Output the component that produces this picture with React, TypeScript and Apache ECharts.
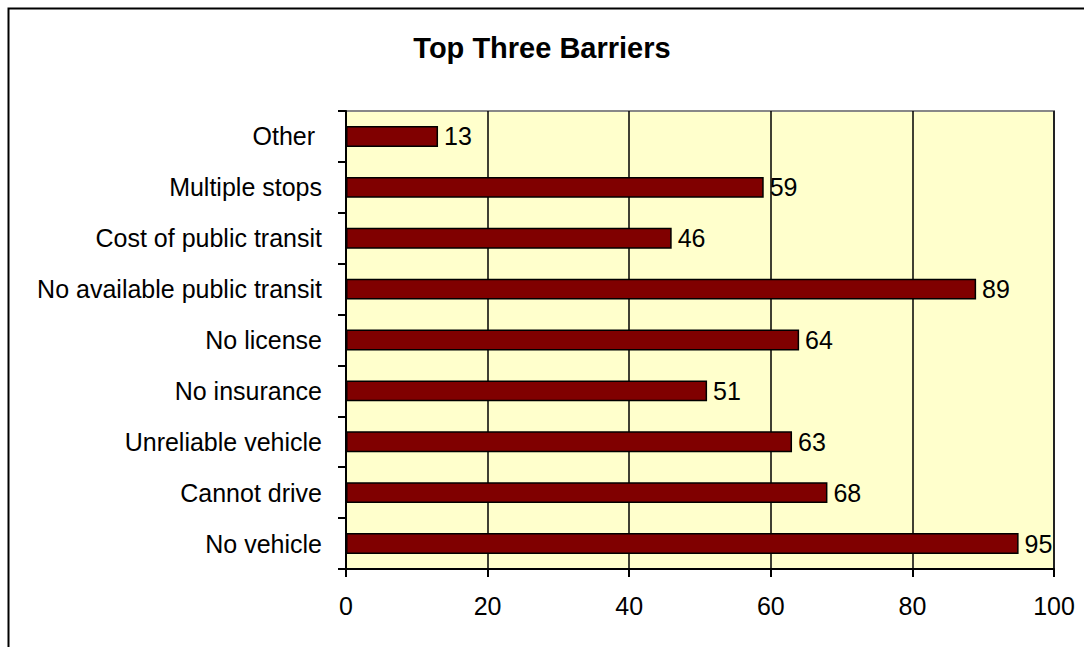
import React, { useEffect, useRef } from "react";
import * as echarts from "echarts";

const categories = [
  "No vehicle",
  "Cannot drive",
  "Unreliable vehicle",
  "No insurance",
  "No license",
  "No available public transit",
  "Cost of public transit",
  "Multiple stops",
  "Other ",
];
const values = [95, 68, 63, 51, 64, 89, 46, 59, 13];
const xTicks = { min: 0, max: 100, interval: 20 };
const title = "Top Three Barriers";

export default function App() {
  const ref = useRef<HTMLDivElement>(null);
  useEffect(() => {
    document.body.style.margin = "0";
    const chart = echarts.init(ref.current!, null, { renderer: "svg" });
    const font = "Liberation Sans, Arial, sans-serif";
    chart.setOption({
      animation: false,
      backgroundColor: "#ffffff",
      title: {
        text: title,
        left: "center",
        top: 28,
        textStyle: { fontFamily: font, fontSize: 29, fontWeight: "bold", color: "#000" },
      },
      graphic: [
        {
          type: "rect",
          left: 6,
          top: 6,
          shape: { x: 0, y: 0, width: 2000, height: 2000 },
          style: { fill: "none", stroke: "#000", lineWidth: 2 },
          silent: true,
          z: 100,
        },
      ],
      grid: {
        left: 346,
        top: 111,
        right: 30,
        bottom: 78,
        show: true,
        backgroundColor: "#FFFFCC",
        borderColor: "#888888",
        borderWidth: 2,
      },
      xAxis: {
        type: "value",
        min: xTicks.min,
        max: xTicks.max,
        interval: xTicks.interval,
        axisLine: { show: true, lineStyle: { color: "#000", width: 2 } },
        axisTick: { show: true, length: 8, lineStyle: { color: "#000", width: 2 } },
        splitLine: { show: true, lineStyle: { color: "#000", width: 1.5 } },
        axisLabel: { color: "#000", fontSize: 25, fontFamily: font, margin: 24 },
      },
      yAxis: {
        type: "category",
        data: categories,
        axisLine: { show: true, lineStyle: { color: "#000", width: 2 } },
        axisTick: { show: true, length: 8, lineStyle: { color: "#000", width: 2 } },
        axisLabel: { color: "#000", fontSize: 25, fontFamily: font, margin: 24 },
        splitLine: { show: false },
      },
      series: [
        {
          type: "bar",
          data: values,
          barWidth: "41%",
          itemStyle: { color: "#800000", borderColor: "#000", borderWidth: 1.5 },
          label: {
            show: true,
            position: "right",
            distance: 6,
            color: "#000",
            fontSize: 25,
            fontFamily: font,
          },
        },
      ],
    });
    return () => chart.dispose();
  }, []);
  return <div ref={ref} style={{ width: 1084, height: 647 }} />;
}
